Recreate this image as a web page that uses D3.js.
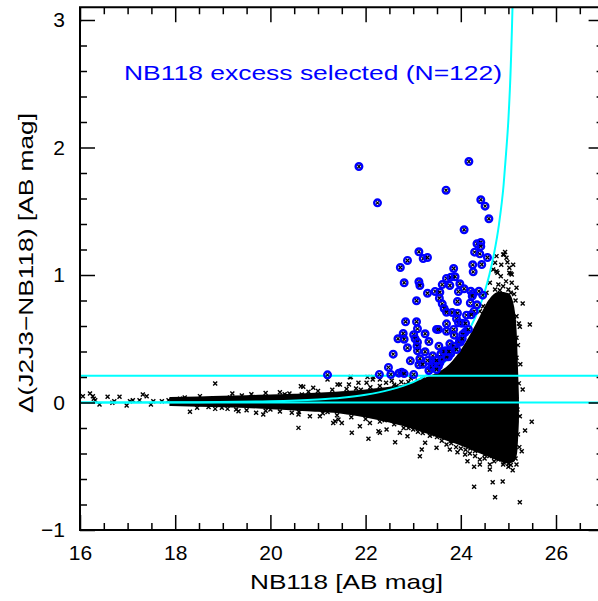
<!DOCTYPE html>
<html><head><meta charset="utf-8">
<script src="https://cdn.jsdelivr.net/npm/d3@7"></script>
<style>body{margin:0;background:#fff}</style></head>
<body><svg id="c" width="598" height="601"></svg>
<script>
// ---------------- data ----------------
const xTicks = [16, 18, 20, 22, 24, 26];
const yTicks = [-1, 0, 1, 2, 3];
const cutLevel = 0.21;       // horizontal selection line
const zeroLevel = 0;
const labelText = "NB118 excess selected (N=122)";

// selected (NB118 excess) objects
const selMag = [21.20,21.86,22.25,23.69,24.17,24.42,24.51,24.59,24.07,24.34,24.42,24.42,24.29,24.40,24.56,23.12,23.21,23.30,22.88,22.73,
24.25,24.44,23.85,24.26,23.70,23.79,23.88,22.81,23.12,23.14,23.61,23.77,23.98,24.07,23.30,23.46,23.56,23.55,24.21,24.26,
24.24,24.46,24.38,23.07,23.93,23.61,23.65,23.82,23.93,23.70,24.28,24.12,24.22,24.34,23.91,23.95,24.02,22.84,23.07,23.70,
23.09,22.79,22.68,22.81,23.01,23.04,23.09,23.25,23.49,23.53,23.70,23.85,23.86,24.09,24.16,24.04,23.33,22.88,23.08,23.09,
23.54,23.77,23.85,23.91,23.99,23.25,23.68,23.79,23.74,22.58,22.94,23.14,23.12,23.41,23.41,23.45,23.56,23.61,23.70,22.48,
23.33,23.39,23.46,23.53,23.49,22.29,22.53,22.70,22.76,22.81,23.01,23.97,24.03,23.49,23.58,23.65,23.30,23.20,23.75,23.95,
24.20,24.10];
const selDelta = [0.217,1.851,1.566,1.665,1.890,1.590,1.540,1.441,1.355,1.245,1.255,1.224,1.179,1.166,1.137,1.182,1.129,1.137,1.114,1.059,
1.080,1.082,1.051,1.025,0.973,0.983,0.986,0.939,0.947,0.918,0.925,0.918,0.931,0.892,0.857,0.871,0.865,0.818,0.873,0.855,
0.834,0.842,0.873,0.798,0.792,0.774,0.737,0.706,0.700,0.708,0.716,0.685,0.688,0.766,0.656,0.625,0.622,0.633,0.633,0.617,
0.578,0.541,0.500,0.496,0.531,0.500,0.473,0.539,0.573,0.573,0.559,0.573,0.528,0.551,0.573,0.533,0.478,0.429,0.442,0.405,
0.442,0.460,0.442,0.416,0.473,0.398,0.405,0.384,0.358,0.379,0.327,0.343,0.296,0.366,0.327,0.290,0.311,0.343,0.358,0.275,
0.251,0.280,0.298,0.285,0.259,0.220,0.220,0.230,0.238,0.227,0.220,0.481,0.500,0.330,0.380,0.400,0.330,0.300,0.400,0.870,
0.780,0.620];

// individual (non-selected) objects outside / on the edge of the dense core
const ptMag = [16.06,16.21,16.27,16.29,16.32,16.41,16.58,16.68,16.72,16.83,16.98,17.05,17.11,17.25,17.32,17.40,17.49,17.54,17.72,17.86,
18.31,18.84,18.46,18.98,18.10,18.52,19.15,19.28,19.57,18.84,
20.64,20.90,20.66,21.20,21.41,21.65,21.69,21.85,22.02,22.04,22.16,19.33,19.70,19.85,20.45,20.59,20.59,20.83,21.04,21.32,
21.43,21.71,21.88,22.09,22.06,22.27,21.36,21.50,22.15,22.30,22.43,20.69,21.46,21.67,
22.62,22.88,23.14,23.18,23.25,23.49,23.77,23.93,24.09,24.19,24.14,24.28,24.40,24.40,24.61,24.61,24.79,24.89,25.00,25.09,
25.17,25.28,25.35,25.49,25.30,25.17,25.19,25.24,24.28,24.67,24.88,24.72,25.24,22.30,22.44,22.72,23.00,
24.91,24.96,24.72,25.02,25.07,24.84,24.75,24.79,24.89,25.07,25.17,25.00,25.30,25.45,25.24,25.12,25.07,25.17,25.10,25.17,
25.10,25.17,25.09,24.68,24.75,24.89,24.96,24.61,24.72,24.54,24.47,24.40,24.75,24.89,24.93,24.68,25.02,24.77,25.05,
22.55,22.75,22.95,23.10,22.65,22.85,23.35,23.60,23.80,24.00,24.30,24.50,24.70,24.95,23.10,22.80,
19.2,19.6,19.9,20.2,20.4,20.8,21.0,21.3,21.6,21.8,22.1,22.3,22.6,22.9,23.2,
19.1,19.5,19.9,20.2,20.6,21.1,21.4,21.7,22.0,22.3,22.6,22.9,23.2,23.5,
23.7,23.9,24.1,24.3,24.5,24.7,24.9,25.05,25.15,
25.22,25.25,25.20,25.22,25.15,25.20,25.23,
24.85,24.98,25.10,24.95,25.12,24.82,25.05,24.90,
18.2,18.7,19.4,20.0,20.3,21.2,21.9,22.4,23.0,23.4,23.8,24.2,24.6,25.0];
const ptDelta = [0.049,0.071,0.049,0.029,0.018,-0.016,0.045,-0.002,0.010,0.045,-0.024,0.010,0.018,0.018,0.063,0.049,-0.016,0.010,0.010,0.018,
-0.073,0.149,-0.042,-0.042,0.030,0.050,0.040,-0.055,0.016,-0.050,
0.128,0.115,0.063,0.180,0.141,0.141,0.200,0.154,0.154,0.200,0.200,-0.068,-0.081,-0.094,-0.081,-0.094,-0.199,-0.107,-0.107,-0.160,
-0.133,-0.238,-0.186,-0.160,-0.285,-0.225,-0.147,-0.160,0.180,0.180,0.154,0.123,0.141,0.198,
-0.311,-0.264,-0.421,-0.369,-0.316,-0.355,-0.369,-0.390,-0.408,-0.400,-0.460,-0.504,-0.447,-0.486,-0.486,-0.525,-0.447,-0.486,-0.504,-0.531,
-0.486,-0.382,-0.220,-0.151,0.102,0.024,-0.055,-0.107,-0.661,-0.625,-0.620,-0.743,-0.782,-0.238,-0.212,-0.238,-0.212,
1.161,1.135,1.096,1.017,1.004,0.991,1.030,0.925,0.912,0.939,0.900,0.886,0.776,0.612,0.594,0.651,0.729,0.677,0.520,0.507,
0.429,0.351,0.272,0.808,0.755,0.782,0.821,0.939,0.886,0.860,0.755,0.716,1.148,1.161,1.180,1.043,1.056,1.017,1.012,
0.170,0.160,0.190,0.170,0.130,0.140,-0.260,-0.300,-0.320,-0.360,-0.420,-0.440,-0.460,-0.450,-0.230,-0.200,
0.070,0.065,0.075,0.080,0.070,0.085,0.090,0.100,0.105,0.110,0.120,0.130,0.140,0.160,0.180,
-0.050,-0.060,-0.065,-0.070,-0.075,-0.085,-0.100,-0.115,-0.130,-0.150,-0.170,-0.200,-0.240,-0.270,
-0.330,-0.350,-0.370,-0.380,-0.410,-0.430,-0.470,-0.490,-0.440,
0.150,0.300,0.450,0.620,0.800,-0.250,-0.350,
1.080,1.100,1.080,0.950,0.850,0.880,0.860,0.840,
0.040,-0.035,0.055,-0.055,0.065,-0.075,0.100,-0.140,0.140,-0.250,-0.300,-0.360,-0.420,-0.480];

// envelope of the dense (solid) core of the point cloud
const coreMag = [17.9,18.5,19.0,19.5,20.0,20.5,21.0,21.5,22.0,22.5,23.0,23.4,23.7,24.0,24.2,24.4,24.6,24.8,25.0,25.1,25.16,25.2];
const coreTop = [0.035,0.04,0.045,0.05,0.055,0.06,0.07,0.08,0.095,0.115,0.15,0.21,0.27,0.40,0.52,0.66,0.80,0.86,0.85,0.75,0.50,0.05];
const coreBot = [-0.02,-0.025,-0.03,-0.035,-0.045,-0.055,-0.065,-0.08,-0.11,-0.15,-0.20,-0.25,-0.29,-0.33,-0.36,-0.39,-0.42,-0.45,-0.47,-0.46,-0.40,-0.15];

// selection curve (cyan)
const curveMag = [16,18,20,21,21.5,22,22.5,23,23.3,23.6,23.8,24.0,24.2,24.4,24.5,24.6,24.7,24.8,24.9,24.95,25.0,25.05,25.1,25.12];
const curveDelta = [0.0002,0.0015,0.0095,0.024,0.038,0.061,0.099,0.160,0.218,0.298,0.369,0.463,0.586,0.755,0.866,1.002,1.171,1.392,1.71,1.95,2.22,2.64,3.37,3.91];

// ---------------- drawing ----------------
const svg = d3.select("#c");
const L = 80, B = 530, T = 7.25, R = 603.6;
const x = d3.scaleLinear().domain([16, 27]).range([L, R]);
const y = d3.scaleLinear().domain([-1, 3.1]).range([B, T]);
const FONT = "'Liberation Sans', Arial, Helvetica, sans-serif";

svg.append("defs").append("clipPath").attr("id","clip")
  .append("rect").attr("x",L).attr("y",T).attr("width",R-L).attr("height",B-T);
const plot = svg.append("g").attr("clip-path","url(#clip)");

// dense core
const coreData = coreMag.map((m,i)=>({m, t:coreTop[i], b:coreBot[i]}));
plot.append("path").datum(coreData)
  .attr("d", d3.area().x(d=>x(d.m)).y0(d=>y(d.b)).y1(d=>y(d.t)).curve(d3.curveMonotoneX))
  .attr("fill","#000").attr("stroke","#000").attr("stroke-width",2);

const cross = "M-2,-2L2,2M-2,2L2,-2";
const pts = ptMag.map((m,i)=>[m, ptDelta[i]]);
plot.append("g").selectAll("path").data(pts).join("path")
  .attr("transform", d=>`translate(${x(d[0])},${y(d[1])})`)
  .attr("d", cross).attr("stroke","#000").attr("stroke-width",1.4).attr("fill","none");

// cyan lines
[zeroLevel, cutLevel].forEach(v=>{
  plot.append("line").attr("x1",L).attr("x2",R).attr("y1",y(v)).attr("y2",y(v))
    .attr("stroke","#00ffff").attr("stroke-width",2);
});
const curveData = curveMag.map((m,i)=>[m, curveDelta[i]]);
plot.append("path").datum(curveData)
  .attr("d", d3.line().x(d=>x(d[0])).y(d=>y(d[1])).curve(d3.curveMonotoneX))
  .attr("fill","none").attr("stroke","#00ffff").attr("stroke-width",2);

// selected points
const sel = selMag.map((m,i)=>[m, selDelta[i]]);
const gs = plot.append("g").selectAll("g").data(sel).join("g")
  .attr("transform", d=>`translate(${x(d[0])},${y(d[1])})`);
gs.append("circle").attr("r",3.3).attr("fill","none").attr("stroke","#0000ff").attr("stroke-width",2.4);
gs.append("path").attr("d","M-1.5,-1.5L1.5,1.5M-1.5,1.5L1.5,-1.5").attr("stroke","#000").attr("stroke-width",1.2);

// frame
svg.append("rect").attr("x",L).attr("y",T).attr("width",R-L).attr("height",B-T)
  .attr("fill","none").attr("stroke","#000").attr("stroke-width",2);

// axes (inward ticks)
function styleAxis(g){
  g.select(".domain").remove();
  g.selectAll(".tick line").attr("stroke","#000").attr("stroke-width",1.5);
  g.selectAll("text").attr("font-family",FONT).attr("font-size",21).attr("fill","#000");
}
const xMinor = d3.range(16, 27.01, 0.5).filter(v=>!xTicks.includes(v));
const yMinor = d3.range(-1, 3.11, 0.2).map(v=>+v.toFixed(2)).filter(v=>!yTicks.includes(v));
const fmtY = d=> d<0 ? "\u2212"+Math.abs(d) : String(d);

svg.append("g").attr("transform",`translate(0,${B})`)
  .call(d3.axisBottom(x).tickValues(xTicks).tickSize(-15).tickSizeOuter(0).tickPadding(15).tickFormat(d3.format("d")))
  .call(styleAxis);
svg.append("g").attr("transform",`translate(0,${B})`)
  .call(d3.axisBottom(x).tickValues(xMinor).tickSize(-7).tickSizeOuter(0).tickFormat(""))
  .call(styleAxis);
svg.append("g").attr("transform",`translate(0,${T})`)
  .call(d3.axisTop(x).tickValues(xTicks).tickSize(-15).tickSizeOuter(0).tickFormat(""))
  .call(styleAxis);
svg.append("g").attr("transform",`translate(0,${T})`)
  .call(d3.axisTop(x).tickValues(xMinor).tickSize(-7).tickSizeOuter(0).tickFormat(""))
  .call(styleAxis);
svg.append("g").attr("transform",`translate(${L},0)`)
  .call(d3.axisLeft(y).tickValues(yTicks).tickSize(-15).tickSizeOuter(0).tickPadding(15).tickFormat(fmtY))
  .call(styleAxis);
svg.append("g").attr("transform",`translate(${L},0)`)
  .call(d3.axisLeft(y).tickValues(yMinor).tickSize(-7).tickSizeOuter(0).tickFormat(""))
  .call(styleAxis);
svg.append("g").attr("transform",`translate(${R},0)`)
  .call(d3.axisRight(y).tickValues(yTicks).tickSize(-15).tickSizeOuter(0).tickFormat(""))
  .call(styleAxis);
svg.append("g").attr("transform",`translate(${R},0)`)
  .call(d3.axisRight(y).tickValues(yMinor).tickSize(-7).tickSizeOuter(0).tickFormat(""))
  .call(styleAxis);

// titles
svg.append("text").attr("x",250).attr("y",589).attr("font-family",FONT).attr("font-size",21)
  .attr("textLength",193).attr("lengthAdjust","spacingAndGlyphs").text("NB118 [AB mag]");
svg.append("text").attr("transform","translate(33,413) rotate(-90)")
  .attr("font-family",FONT).attr("font-size",21)
  .attr("textLength",300).attr("lengthAdjust","spacingAndGlyphs").text("\u0394(J2J3\u2212NB118) [AB mag]");
svg.append("text").attr("x",124).attr("y",80).attr("font-family",FONT).attr("font-size",21)
  .attr("fill","#0000ff").attr("textLength",378).attr("lengthAdjust","spacingAndGlyphs").text(labelText);
</script></body></html>
